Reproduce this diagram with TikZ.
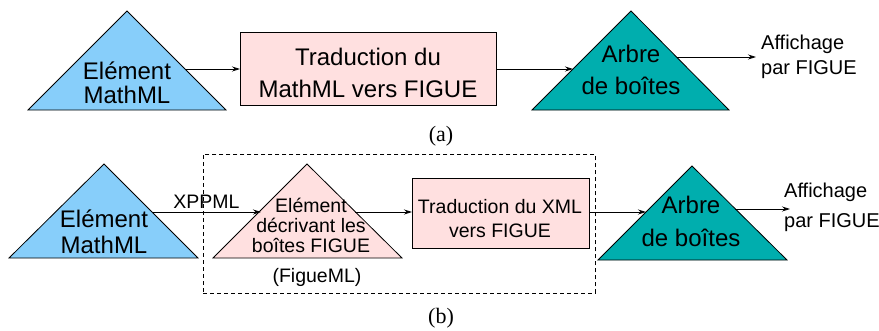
\documentclass[tikz,border=0pt]{standalone}
\usepackage{fontspec}
\setmainfont{Liberation Sans}
\newfontfamily\serifcap{Liberation Serif}
\usetikzlibrary{arrows.meta}
\definecolor{triblue}{RGB}{135,206,250}
\definecolor{tripink}{RGB}{255,224,224}
\definecolor{triteal}{RGB}{0,174,174}
\tikzset{
  tri/.style={draw=black, line width=0.8pt, line join=miter},
  boxnode/.style={draw=black, line width=0.8pt, fill=tripink, inner sep=0pt, anchor=north west},
  conn/.style={line width=0.8pt, -{Stealth[length=8pt,width=5pt]}},
  bigtxt/.style={font=\fontsize{24}{#1}\selectfont, align=center, inner sep=0pt},
  medtxt/.style={font=\fontsize{19.5}{#1}\selectfont, align=center, inner sep=0pt},
  lefttxt/.style={font=\fontsize{20}{#1}\selectfont, align=left, inner sep=0pt, anchor=west},
  caplbl/.style={font=\serifcap\fontsize{22}{23}\selectfont, inner sep=0pt, anchor=base},
}
\begin{document}
\begin{tikzpicture}[x=1pt,y=-1pt]
\useasboundingbox (0,0) rectangle (879,330);

% ---------- (a) ----------
\coordinate (a1top) at (127,11);
\coordinate (a1l) at (28,110);
\coordinate (a1r) at (226,110);
\filldraw[tri, fill=triblue] (a1top) -- (a1r) -- (a1l) -- cycle;
\node[bigtxt=24] (a1txt) at (127,83) {Elément\\MathML};

\node[boxnode, minimum width=256pt, minimum height=73pt] (abox) at (240,32) {};
\node[bigtxt=32] (aboxtxt) at (368,73) {Traduction du\\MathML vers FIGUE};

\coordinate (a2top) at (631,11);
\coordinate (a2l) at (532,110);
\coordinate (a2r) at (729,110);
\filldraw[tri, fill=triteal] (a2top) -- (a2r) -- (a2l) -- cycle;
\node[bigtxt=32] (a2txt) at (631,70) {Arbre\\de boîtes};

\node[lefttxt=25] (aaff) at (761,57.3) {Affichage\\par FIGUE};

\coordinate (a1out) at (185,69);
\coordinate (a2in) at (573,69);
\coordinate (a2out) at (677,57);
\coordinate (aaffin) at (756,57);
\draw[conn] (a1out) -- (abox.west |- a1out);
\draw[conn] (abox.east |- a2in) -- (a2in);
\draw[conn] (a2out) -- (aaffin);

\node[caplbl] (capa) at (441,141.5) {(a)};

% ---------- (b) ----------
\node[draw=black, dashed, dash pattern=on 4pt off 3pt, line width=0.7pt, inner sep=0pt,
      minimum width=392pt, minimum height=139pt, anchor=north west] (bframe) at (203,154) {};

\coordinate (b1top) at (104,164);
\coordinate (b1l) at (9,258);
\coordinate (b1r) at (198,258);
\filldraw[tri, fill=triblue] (b1top) -- (b1r) -- (b1l) -- cycle;
\node[bigtxt=26] (b1txt) at (104,231.5) {Elément\\MathML};

\coordinate (b2top) at (307,164);
\coordinate (b2l) at (213,258);
\coordinate (b2r) at (402,258);
\filldraw[tri, fill=tripink] (b2top) -- (b2r) -- (b2l) -- cycle;
\node[medtxt=20] (b2txt) at (311,225.4) {Elément\\décrivant les\\boîtes FIGUE};
\node[medtxt=20, anchor=base] (b2sub) at (317,282.5) {(FigueML)};

\node[boxnode, minimum width=177pt, minimum height=70pt] (bbox) at (412,178) {};
\node[medtxt=24] (bboxtxt) at (500,218.2) {Traduction du XML\\vers FIGUE};

\coordinate (b3top) at (692,166);
\coordinate (b3l) at (598,260);
\coordinate (b3r) at (787,260);
\filldraw[tri, fill=triteal] (b3top) -- (b3r) -- (b3l) -- cycle;
\node[bigtxt=33.4] (b3txt) at (691,221.3) {Arbre\\de boîtes};

\node[lefttxt=29.6] (baff) at (784,207.3) {Affichage\\par FIGUE};

\coordinate (b1out) at (152,212);
\coordinate (b2in) at (261,212);
\coordinate (b2out) at (355,212);
\coordinate (b3in) at (646,212);
\coordinate (b3out) at (735,209);
\coordinate (baffin) at (790,209);
\draw[conn] (b1out) -- node[medtxt=20, anchor=base, yshift=4pt] (xppml) {XPPML} (b2in);
\draw[conn] (b2out) -- (bbox.west |- b2out);
\draw[conn] (bbox.east |- b3in) -- (b3in);
\draw[conn] (b3out) -- (baffin);

\node[caplbl] (capb) at (441,323) {(b)};
\end{tikzpicture}
\end{document}
